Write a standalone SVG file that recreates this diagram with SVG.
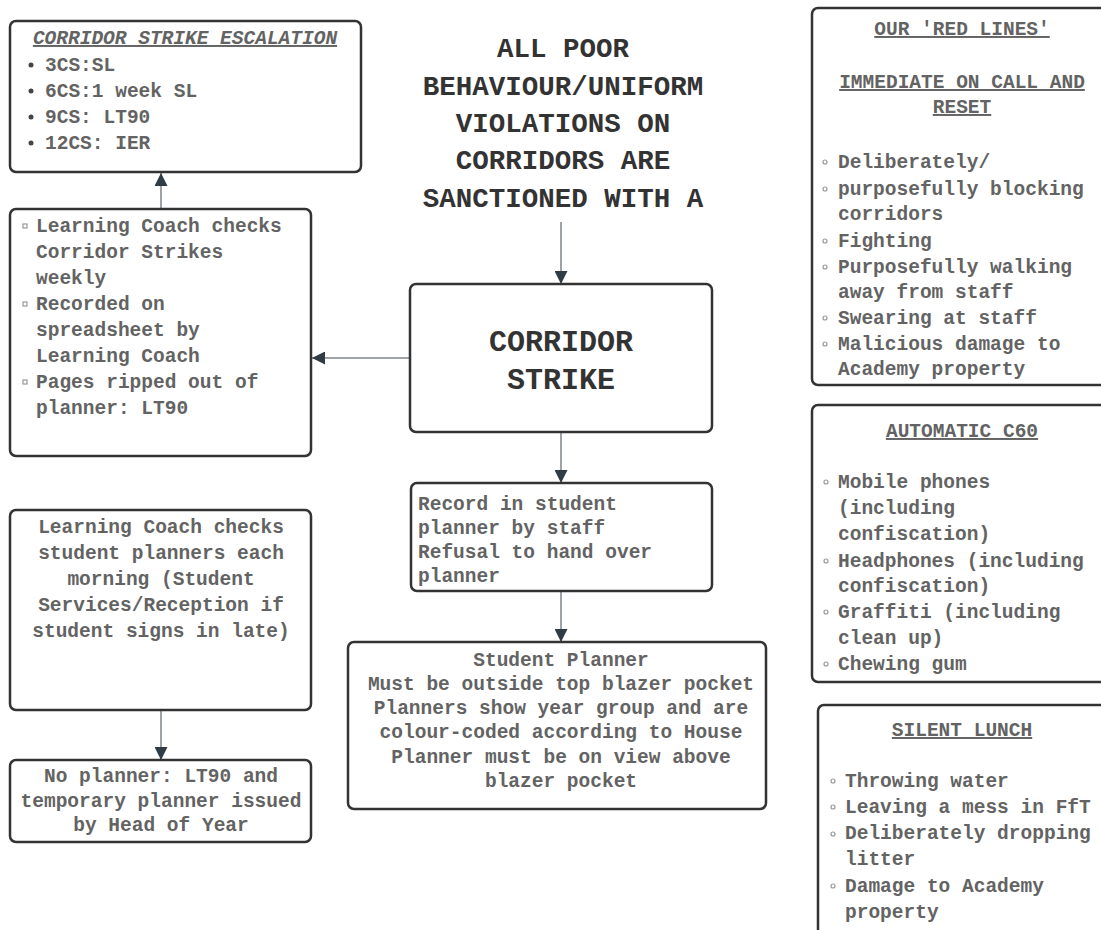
<svg xmlns="http://www.w3.org/2000/svg" width="1101" height="930" viewBox="0 0 1101 930">
<style>
.box{fill:#fff;stroke:#333;stroke-width:2.5}
.t{font-family:"Liberation Mono",monospace;font-size:19.5px;font-weight:bold;fill:#636363}
.c{text-anchor:middle}
.u{text-decoration:underline}
.hd{font-family:"Liberation Mono",monospace;font-weight:bold;fill:#333;text-anchor:middle}
.conn{stroke:#9ea3a8;stroke-width:2;fill:none}
.bo{fill:none;stroke:#999;stroke-width:1.2}
.bd{fill:#444}
</style>
<defs>
<marker id="arr" viewBox="0 0 10 10" refX="10" refY="5" markerWidth="13" markerHeight="13" markerUnits="userSpaceOnUse" orient="auto">
<path d="M0,0 L10,5 L0,10 z" fill="#2f3b45"/>
</marker>
</defs>
<rect width="1101" height="930" fill="#fff"/>

<g id="connectors">
<path class="conn" d="M561,222 L561,284" marker-end="url(#arr)"/>
<path class="conn" d="M410,358 L312,358" marker-end="url(#arr)"/>
<path class="conn" d="M161,209 L161,173" marker-end="url(#arr)"/>
<path class="conn" d="M561,432 L561,483" marker-end="url(#arr)"/>
<path class="conn" d="M561,591 L561,642" marker-end="url(#arr)"/>
<path class="conn" d="M161,710 L161,760" marker-end="url(#arr)"/>
</g>

<g id="escalation">
<rect class="box" x="10" y="21" width="351" height="151" rx="6"/>
<text class="t c u" x="185" y="44" font-style="italic">CORRIDOR STRIKE ESCALATION</text>
<circle class="bd" cx="31" cy="65" r="2.5"/>
<circle class="bd" cx="31" cy="91" r="2.5"/>
<circle class="bd" cx="31" cy="117" r="2.5"/>
<circle class="bd" cx="31" cy="143" r="2.5"/>
<text class="t" x="45" y="71">3CS:SL</text>
<text class="t" x="45" y="97">6CS:1 week SL</text>
<text class="t" x="45" y="123">9CS: LT90</text>
<text class="t" x="45" y="149">12CS: IER</text>
</g>

<g id="weekly">
<rect class="box" x="10" y="209" width="301" height="247" rx="6"/>
<rect class="bo" x="23" y="224" width="4" height="4"/>
<rect class="bo" x="23" y="302" width="4" height="4"/>
<rect class="bo" x="23" y="380" width="4" height="4"/>
<text class="t" x="36" y="232">Learning Coach checks</text>
<text class="t" x="36" y="258">Corridor Strikes</text>
<text class="t" x="36" y="284">weekly</text>
<text class="t" x="36" y="310">Recorded on</text>
<text class="t" x="36" y="336">spreadsheet by</text>
<text class="t" x="36" y="362">Learning Coach</text>
<text class="t" x="36" y="388">Pages ripped out of</text>
<text class="t" x="36" y="414">planner: LT90</text>
</g>

<g id="morning">
<rect class="box" x="10" y="510" width="301" height="200" rx="6"/>
<text class="t c" x="161" y="533">Learning Coach checks</text>
<text class="t c" x="161" y="559">student planners each</text>
<text class="t c" x="161" y="585">morning (Student</text>
<text class="t c" x="161" y="611">Services/Reception if</text>
<text class="t c" x="161" y="637">student signs in late)</text>
</g>

<g id="noplanner">
<rect class="box" x="10" y="760" width="301" height="82" rx="6"/>
<text class="t c" x="161" y="782">No planner: LT90 and</text>
<text class="t c" x="161" y="807">temporary planner issued</text>
<text class="t c" x="161" y="831">by Head of Year</text>
</g>

<g id="header">
<text class="hd" x="563" y="57" font-size="27.5">ALL POOR</text>
<text class="hd" x="563" y="95" font-size="27.5">BEHAVIOUR/UNIFORM</text>
<text class="hd" x="563" y="132" font-size="27.5">VIOLATIONS ON</text>
<text class="hd" x="563" y="169" font-size="27.5">CORRIDORS ARE</text>
<text class="hd" x="563" y="207" font-size="27.5">SANCTIONED WITH A</text>
</g>

<g id="strike">
<rect class="box" x="410" y="284" width="302" height="148" rx="6"/>
<text class="hd" x="561" y="351" font-size="30">CORRIDOR</text>
<text class="hd" x="561" y="389" font-size="30">STRIKE</text>
</g>

<g id="record">
<rect class="box" x="411" y="483" width="301" height="108" rx="6"/>
<text class="t" x="418" y="510">Record in student</text>
<text class="t" x="418" y="534">planner by staff</text>
<text class="t" x="418" y="558">Refusal to hand over</text>
<text class="t" x="418" y="582">planner</text>
</g>

<g id="planner">
<rect class="box" x="348" y="642" width="418" height="167" rx="6"/>
<text class="t c" x="561" y="666">Student Planner</text>
<text class="t c" x="561" y="690">Must be outside top blazer pocket</text>
<text class="t c" x="561" y="714">Planners show year group and are</text>
<text class="t c" x="561" y="738">colour-coded according to House</text>
<text class="t c" x="561" y="763">Planner must be on view above</text>
<text class="t c" x="561" y="787">blazer pocket</text>
</g>

<g id="redlines">
<rect class="box" x="812" y="8" width="300" height="377" rx="6"/>
<text class="t c u" x="962" y="35">OUR 'RED LINES'</text>
<text class="t c u" x="962" y="88">IMMEDIATE ON CALL AND</text>
<text class="t c u" x="962" y="113">RESET</text>
<circle class="bo" cx="825" cy="162" r="2"/>
<circle class="bo" cx="825" cy="189" r="2"/>
<circle class="bo" cx="825" cy="241" r="2"/>
<circle class="bo" cx="825" cy="267" r="2"/>
<circle class="bo" cx="825" cy="318" r="2"/>
<circle class="bo" cx="825" cy="344" r="2"/>
<text class="t" x="838" y="168">Deliberately/</text>
<text class="t" x="838" y="195">purposefully blocking</text>
<text class="t" x="838" y="220">corridors</text>
<text class="t" x="838" y="247">Fighting</text>
<text class="t" x="838" y="273">Purposefully walking</text>
<text class="t" x="838" y="298">away from staff</text>
<text class="t" x="838" y="324">Swearing at staff</text>
<text class="t" x="838" y="350">Malicious damage to</text>
<text class="t" x="838" y="375">Academy property</text>
</g>

<g id="c60">
<rect class="box" x="812" y="405" width="300" height="277" rx="6"/>
<text class="t c u" x="962" y="437">AUTOMATIC C60</text>
<circle class="bo" cx="826" cy="482" r="2"/>
<circle class="bo" cx="826" cy="561" r="2"/>
<circle class="bo" cx="826" cy="612" r="2"/>
<circle class="bo" cx="826" cy="664" r="2"/>
<text class="t" x="838" y="488">Mobile phones</text>
<text class="t" x="838" y="514">(including</text>
<text class="t" x="838" y="540">confiscation)</text>
<text class="t" x="838" y="567">Headphones (including</text>
<text class="t" x="838" y="592">confiscation)</text>
<text class="t" x="838" y="618">Graffiti (including</text>
<text class="t" x="838" y="644">clean up)</text>
<text class="t" x="838" y="670">Chewing gum</text>
</g>

<g id="silent">
<rect class="box" x="818" y="705" width="300" height="240" rx="6"/>
<text class="t c u" x="962" y="736">SILENT LUNCH</text>
<circle class="bo" cx="833" cy="781" r="2"/>
<circle class="bo" cx="833" cy="807" r="2"/>
<circle class="bo" cx="833" cy="834" r="2"/>
<circle class="bo" cx="833" cy="886" r="2"/>
<text class="t" x="845" y="787">Throwing water</text>
<text class="t" x="845" y="813">Leaving a mess in FfT</text>
<text class="t" x="845" y="839">Deliberately dropping</text>
<text class="t" x="845" y="865">litter</text>
<text class="t" x="845" y="892">Damage to Academy</text>
<text class="t" x="845" y="918">property</text>
</g>
</svg>
